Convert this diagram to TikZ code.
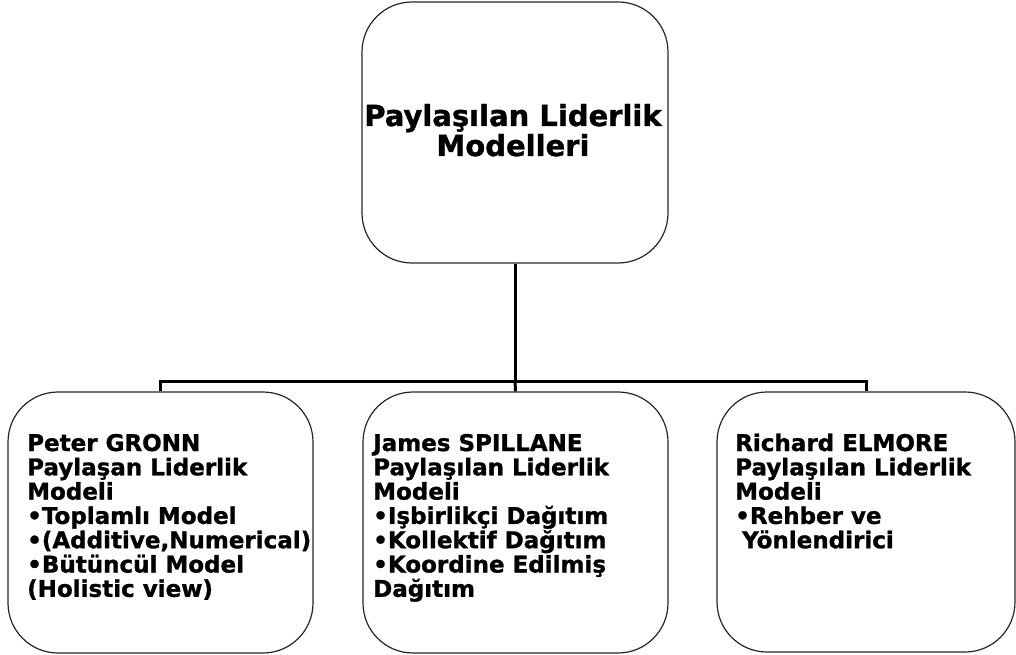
\documentclass[tikz,border=0pt]{standalone}
\usepackage{fontspec}
\newfontfamily\boxfont[FakeBold=1.2]{DejaVu Sans}
% stacks of lines with a fixed distance between baselines;
% the baseline of the stack is that of its first line
\newcommand\leftlines[2]{\vtop{\baselineskip=#1\relax\lineskiplimit=-\maxdimen
  \halign{##\hfil\cr#2\crcr}}}
\newcommand\centerlines[2]{\vtop{\baselineskip=#1\relax\lineskiplimit=-\maxdimen
  \halign{\hfil##\hfil\cr#2\crcr}}}
\begin{document}
\begin{tikzpicture}[x=1pt,y=-1pt,
  modelbox/.style={draw=black!85, line width=1.2pt, rounded corners=50pt,
    rectangle, inner sep=0pt},
  conn/.style={draw=black, line width=3pt},
  headtext/.style={inner sep=0pt, anchor=base,
    font=\boxfont\bfseries\fontsize{29}{30}\selectfont},
  bodytext/.style={inner sep=0pt, anchor=base west,
    font=\boxfont\bfseries\fontsize{23}{24.3}\selectfont}]
  \useasboundingbox (0,0) rectangle (1016,655);

  % boxes
  \node[modelbox, minimum width=306pt, minimum height=261pt] (top) at (515,132.5) {};
  \node[modelbox, minimum width=305pt, minimum height=261pt] (left) at (160.5,522.5) {};
  \node[modelbox, minimum width=305pt, minimum height=261pt] (mid) at (515.5,522.5) {};
  \node[modelbox, minimum width=298pt, minimum height=260pt] (right) at (866,522) {};

  % connectors
  \coordinate (bus) at (515,381);
  \draw[conn] (top.south) -- (bus);
  \draw[conn] (left.north) |- (bus) -| (right.north);
  \draw[conn] (bus) -- (mid.north);

  % texts
  \node[headtext] (toptext) at (513,126)
    {\centerlines{30pt}{Paylaşılan Liderlik\cr Modelleri}};
  \node[bodytext] (lefttext) at (27,451)
    {\leftlines{24.3pt}{Peter GRONN\cr Paylaşan Liderlik\cr Modeli\cr •Toplamlı Model\cr •(Additive,Numerical)\cr •Bütüncül Model\cr (Holistic view)}};
  \node[bodytext] (midtext) at (373,451)
    {\leftlines{24.3pt}{James SPILLANE\cr Paylaşılan Liderlik\cr Modeli\cr •Işbirlikçi Dağıtım\cr •Kollektif Dağıtım\cr •Koordine Edilmiş\cr Dağıtım}};
  \node[bodytext] (righttext) at (735,451)
    {\leftlines{24.3pt}{Richard ELMORE\cr Paylaşılan Liderlik\cr Modeli\cr •Rehber ve\cr \hspace{0.3em}Yönlendirici}};
\end{tikzpicture}
\end{document}
